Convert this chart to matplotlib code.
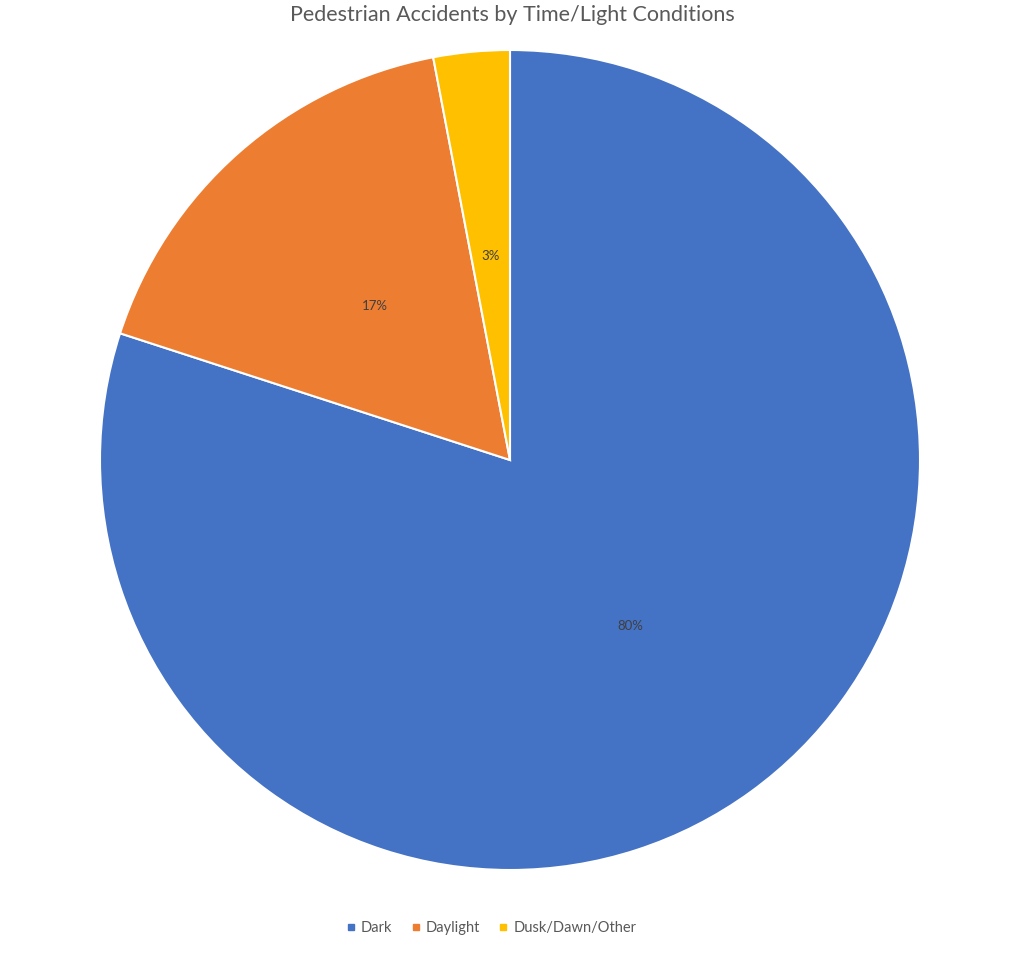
import matplotlib.pyplot as plt
from matplotlib.lines import Line2D

plt.rcParams["font.family"] = ["Lato", "DejaVu Sans"]

labels = ["Dark", "Daylight", "Dusk/Dawn/Other"]
shares = [80, 17, 3]
colors = ["#4472C4", "#ED7D31", "#FFC000"]

fig = plt.figure(figsize=(10.24, 9.56), dpi=100)
ax = fig.add_axes([100 / 1024, 86 / 956, 820 / 1024, 820 / 956])
wedges, texts, autotexts = ax.pie(
    shares,
    colors=colors,
    startangle=90,
    counterclock=False,
    autopct="%d%%",
    pctdistance=0.5,
    radius=1,
    wedgeprops=dict(edgecolor="white", linewidth=1.5),
    textprops=dict(color="#404040", fontsize=9.5),
)
ax.set_xlim(-1.0, 1.0)
ax.set_ylim(-1.0, 1.0)
ax.axis("off")

fig.text(0.5, 1 - 15 / 956, "Pedestrian Accidents by Time/Light Conditions",
         ha="center", va="center", fontsize=15.5, color="#595959")

handles = [Line2D([0], [0], marker="s", linestyle="", markersize=5,
                  markerfacecolor=c, markeredgecolor=c) for c in colors]
fig.legend(handles, labels, loc="center", bbox_to_anchor=(490 / 1024, 1 - 928 / 956),
           ncol=3, frameon=False, fontsize=10.5, labelcolor="#595959",
           handletextpad=0.2, columnspacing=1.1, handlelength=1.0)

fig.savefig("out.png", dpi=100)
